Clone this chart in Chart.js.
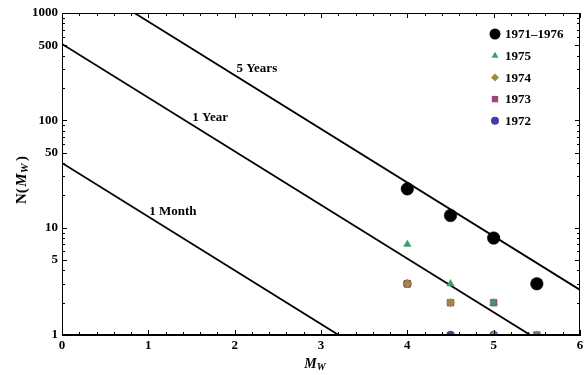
<!DOCTYPE html>
<html><head><meta charset="utf-8">
<script src="https://cdn.jsdelivr.net/npm/chart.js@4"></script>
<style>html,body{margin:0;padding:0;background:#fff}canvas{display:block}</style>
</head><body>
<canvas id="c" width="584" height="375"></canvas>
<script>
// ---- data ----
const seriesNames  = ['1971\u20131976','1975','1974','1973','1972'];
const seriesColors = ['#000000','#3a9e68','#a08c3c','#a2457c','#3d3fa6'];
const seriesStyles = ['circle','triangle','rectRot','rect','circle'];
const seriesRadius = [6.3, 4.3, 4.2, 4.8, 4];
const legendRadius = [5.5, 4, 4, 4.5, 4];

const mAll  = [4, 4.5, 5, 5.5];   const nAll  = [23, 13, 8, 3];
const m1975 = [4, 4.5, 5, 5.5];   const n1975 = [7, 3, 2, 1];
const m1974 = [4, 4.5, 5];        const n1974 = [3, 2, 1];
const m1973 = [4, 4.5, 5, 5.5];   const n1973 = [3, 2, 2, 1];
const m1972 = [4, 4.5, 5];        const n1972 = [3, 1, 1];

const lineNames  = ['1 Month', '1 Year', '5 Years'];
const lineM      = [0, 6];
const lineMonth  = [40, 0.040];
const lineYear   = [515, 0.515];
const line5Years = [2630, 2.63];
const lineLabelM = [1.01, 1.51, 2.02];
const lineLabelN = [14, 105, 300];

const xTickValues = [0, 1, 2, 3, 4, 5, 6];
const yTickLabels = [1, 5, 10, 50, 100, 500, 1000];

// ---- build ----
const pts = (xs, ys) => xs.map((x, i) => ({x, y: ys[i]}));
const seriesM = [mAll, m1975, m1974, m1973, m1972];
const seriesN = [nAll, n1975, n1974, n1973, n1972];
const lineVals = [lineMonth, lineYear, line5Years];

const yAllTicks = [];
for (let k = 0; k < 3; k++) for (let d = 1; d <= 9; d++) yAllTicks.push(d * Math.pow(10, k));
yAllTicks.push(1000);
const xAllTicks = [];
for (let i = 0; i <= 30; i++) xAllTicks.push(i / 5);

const FONT = "'Liberation Serif', 'Times New Roman', serif";

const datasets = [];
seriesNames.forEach((name, i) => {
  datasets.push({
    type: 'scatter', label: name, data: pts(seriesM[i], seriesN[i]),
    pointStyle: seriesStyles[i], pointRadius: seriesRadius[i], pointHoverRadius: seriesRadius[i],
    backgroundColor: seriesColors[i], borderColor: seriesColors[i], pointBorderWidth: 0.5,
    clip: 0, order: i
  });
});
lineNames.forEach((name, i) => {
  datasets.push({
    type: 'line', label: name, data: pts(lineM, lineVals[i]),
    borderColor: '#000', borderWidth: 1.8, pointRadius: 0, fill: false,
    clip: 0, order: 10 + i
  });
});

const decor = {
  id: 'decor',
  afterDraw(chart) {
    const {ctx, chartArea: a, scales: {x, y}} = chart;
    ctx.save();
    // frame
    ctx.strokeStyle = '#000'; ctx.lineWidth = 1;
    ctx.strokeRect(a.left + 0.5, a.top + 0.5, a.right - a.left - 1, a.bottom - a.top - 1);
    // ticks
    ctx.beginPath();
    yAllTicks.forEach(v => {
      const py = Math.round(y.getPixelForValue(v)) + 0.5;
      const len = yTickLabels.includes(v) ? 5 : 3;
      ctx.moveTo(a.left, py); ctx.lineTo(a.left + len, py);
      ctx.moveTo(a.right, py); ctx.lineTo(a.right - len, py);
    });
    xAllTicks.forEach(v => {
      const px = Math.round(x.getPixelForValue(v)) + 0.5;
      const len = Number.isInteger(Math.round(v * 1e6) / 1e6) ? 5 : 3;
      ctx.moveTo(px, a.bottom); ctx.lineTo(px, a.bottom - len);
      ctx.moveTo(px, a.top); ctx.lineTo(px, a.top + len);
    });
    ctx.stroke();
    // line labels
    ctx.fillStyle = '#000';
    ctx.font = 'bold 13px ' + FONT;
    ctx.textAlign = 'left'; ctx.textBaseline = 'middle';
    lineNames.forEach((name, i) => {
      ctx.fillText(name, x.getPixelForValue(lineLabelM[i]), y.getPixelForValue(lineLabelN[i]));
    });
    // legend
    const lx = 495, ly0 = 34, dy = 21.7;
    seriesNames.forEach((name, i) => {
      const yy = ly0 + i * dy;
      ctx.fillStyle = seriesColors[i]; ctx.strokeStyle = seriesColors[i];
      Chart.helpers.drawPoint(ctx, {pointStyle: seriesStyles[i], rotation: 0, radius: legendRadius[i], borderWidth: 0}, lx, yy);
      ctx.fillStyle = '#000';
      ctx.font = 'bold 13px ' + FONT;
      ctx.textAlign = 'left'; ctx.textBaseline = 'middle';
      ctx.fillText(name, 505, yy + 1);
    });
    // axis titles
    const drawParts = (parts) => {
      let w = 0;
      parts.forEach(p => { ctx.font = p.f; w += ctx.measureText(p.t).width + (p.g || 0); });
      let cx = -w / 2;
      parts.forEach(p => { ctx.font = p.f; ctx.fillText(p.t, cx, p.dy || 0); cx += ctx.measureText(p.t).width + (p.g || 0); });
    };
    ctx.fillStyle = '#000'; ctx.textAlign = 'left'; ctx.textBaseline = 'middle';
    ctx.save();
    ctx.translate(22, 180); ctx.rotate(-Math.PI / 2);
    drawParts([
      {t: 'N(', f: 'bold 15px ' + FONT, g: 1.5},
      {t: 'M', f: 'italic bold 15px ' + FONT, g: 0},
      {t: 'W', f: 'italic bold 11px ' + FONT, dy: 3, g: 2.5},
      {t: ')', f: 'bold 15px ' + FONT}
    ]);
    ctx.restore();
    ctx.save();
    ctx.translate(315, 364);
    drawParts([
      {t: 'M', f: 'italic bold 14px ' + FONT},
      {t: 'W', f: 'italic bold 10px ' + FONT, dy: 3}
    ]);
    ctx.restore();
    ctx.restore();
  }
};

new Chart(document.getElementById('c'), {
  type: 'scatter',
  data: {datasets},
  options: {
    responsive: false, animation: false,
    layout: {autoPadding: false, padding: {top: 13, right: 4, left: 0, bottom: 0}},
    plugins: {legend: {display: false}, tooltip: {enabled: false}},
    scales: {
      x: {
        type: 'linear', min: 0, max: 6,
        afterBuildTicks: s => { s.ticks = xTickValues.map(v => ({value: v})); },
        afterFit: s => { s.height = 40; s.paddingRight = 0; s.paddingLeft = 0; },
        grid: {display: false, drawTicks: false},
        border: {display: true, color: '#000', width: 1},
        ticks: {padding: 3, color: '#000', font: {family: FONT, size: 13, weight: 'bold'}, maxRotation: 0, autoSkip: false}
      },
      y: {
        type: 'logarithmic', min: 1, max: 1000,
        afterBuildTicks: s => { s.ticks = yAllTicks.map(v => ({value: v})); },
        afterFit: s => { s.width = 62; },
        grid: {display: false, drawTicks: false},
        border: {display: true, color: '#000', width: 1},
        ticks: {padding: 4, color: '#000', autoSkip: false, font: {family: FONT, size: 13, weight: 'bold'},
          callback: v => yTickLabels.includes(v) ? String(v) : ''}
      }
    }
  },
  plugins: [decor]
});
</script>
</body></html>
